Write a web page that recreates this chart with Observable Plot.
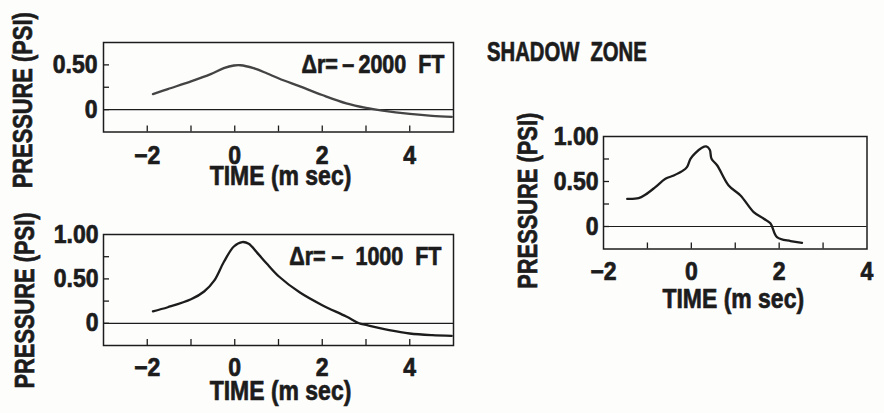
<!DOCTYPE html>
<html><head><meta charset="utf-8">
<script src="https://cdn.jsdelivr.net/npm/d3@7"></script>
<script src="https://cdn.jsdelivr.net/npm/@observablehq/plot@0.6"></script>
<style>
html,body{margin:0;padding:0;background:#fff;}
#wrap{position:relative;width:884px;height:413px;overflow:hidden;background:#fdfdfc;font-family:"Liberation Sans",Arial,sans-serif;font-weight:bold;color:#1c1c1c;}
.panel{position:absolute;}
.panel text{stroke:#1c1c1c;stroke-width:0.7px;}
#title{position:absolute;left:487px;top:39px;font-size:27px;line-height:1;white-space:nowrap;transform:scaleX(0.75);transform-origin:0 0;-webkit-text-stroke:0.7px #1c1c1c;}
</style></head><body>
<div id="wrap"><div id="title">SHADOW&nbsp; ZONE</div></div>
<script>
// Panel A: Δr = -2000 ft
const timeA = [-1.87, -1.53, -1.0, -0.55, -0.25, -0.02, 0.13, 0.43, 0.73, 1.01, 1.49, 2.0, 2.55, 3.0, 3.38, 4.0, 4.51, 4.96];
const pressureA = [0.174, 0.23, 0.315, 0.396, 0.463, 0.493, 0.496, 0.463, 0.407, 0.348, 0.259, 0.163, 0.07, 0.019, -0.011, -0.048, -0.07, -0.081];
// Panel B: Δr = -1000 ft
const timeB = [-1.87, -1.53, -1.0, -0.70, -0.47, -0.25, -0.02, 0.17, 0.32, 0.51, 0.73, 1.01, 1.49, 2.0, 2.55, 2.84, 3.0, 3.53, 4.0, 4.51, 4.96];
const pressureB = [0.135, 0.181, 0.27, 0.358, 0.48, 0.69, 0.865, 0.915, 0.896, 0.796, 0.673, 0.527, 0.346, 0.204, 0.077, 0.0, -0.019, -0.077, -0.115, -0.134, -0.142];
// Panel C: shadow zone
const timeC = [-1.46, -1.2, -1.05, -0.82, -0.59, -0.40, -0.21, -0.10, -0.02, 0.09, 0.24, 0.34, 0.42, 0.46, 0.59, 0.85, 1.12, 1.42, 1.65, 1.80, 1.95, 2.26, 2.52];
const pressureC = [0.307, 0.315, 0.352, 0.437, 0.53, 0.567, 0.615, 0.66, 0.752, 0.815, 0.874, 0.889, 0.852, 0.752, 0.678, 0.456, 0.344, 0.16, 0.086, 0.037, -0.118, -0.162, -0.181];

const xTicksAB = [-2, -1, 0, 1, 2, 3, 4];
const xLabelsAB = [-2, 0, 2, 4];
const xTicksC = [-1, 0, 1, 2, 3];
const xLabelsC = [-2, 0, 2, 4];
const yTicksA = [0, 0.25, 0.5];
const yLabelsA = [0, 0.5];
const yTicksBC = [0, 0.25, 0.5, 0.75];
const yLabelsBC = [0, 0.5, 1.0];
const yTitle = "PRESSURE (PSI)";
const xTitle = "TIME (m sec)";
const noteA = "Δr=\u2009\u2013\u20092000\u00a0\u00a0FT";
const noteB = "Δr=\u00a0\u2013\u00a0\u00a01000\u00a0\u00a0FT";

const FONT = '"Liberation Sans",Arial,sans-serif';
const INK = "#1c1c1c";
const fmtX = d => d < 0 ? "\u2212" + Math.abs(d) : String(d);
const fmtY = d => d === 0 ? "0" : d.toFixed(2);
const SQUEEZE = {"x-axis tick label": 0.92, "y-axis tick label": 0.92, "ytitle": 0.78, "xtitle": 0.82, "note": 0.86};

function squeezeText(t, f) {
  const len = t.getComputedTextLength();
  if (len > 0) {
    t.setAttribute("textLength", (len * f).toFixed(1));
    t.setAttribute("lengthAdjust", "spacingAndGlyphs");
  }
}
function condense(svg) {
  svg.querySelectorAll("g").forEach(g => {
    const key = g.getAttribute("aria-description") || g.getAttribute("aria-label");
    const f = SQUEEZE[key];
    if (!f) return;
    g.querySelectorAll("text").forEach(t => squeezeText(t, f));
  });
}

function panel(o) {
  const data = o.time.map((t, i) => ({t, p: o.pressure[i]}));
  const marks = [
    Plot.ruleY([0], {stroke: INK, strokeWidth: 1.2}),
    Plot.line(data, {x: "t", y: "p", curve: "catmull-rom", stroke: o.lineColor, strokeWidth: 2.3}),
    Plot.frame({stroke: INK, strokeWidth: 1.5}),
    Plot.axisX(o.xTicks, {anchor: "bottom", tickSize: 6, dy: -6, tickFormat: () => "", stroke: INK, strokeWidth: 1.3}),
    Plot.axisX(o.xLabels, {anchor: "bottom", tickSize: 0, tickPadding: o.xPad, fontSize: 25, fill: INK, tickFormat: fmtX}),
    Plot.axisY(o.yTicks, {anchor: "left", tickSize: 6, dx: 6, tickFormat: () => "", stroke: INK, strokeWidth: 1.3}),
    Plot.axisY(o.yLabels, {anchor: "left", tickSize: 0, tickPadding: o.yPad, fontSize: 25, fill: INK, tickFormat: fmtY}),
    Plot.text([yTitle], {text: d => d, ariaDescription: "ytitle", frameAnchor: "left", textAnchor: "middle", lineAnchor: "middle", rotate: -90, dx: o.ytDx, dy: o.ytDy, fontSize: 28, fill: INK}),
    Plot.text([xTitle], {text: d => d, ariaDescription: "xtitle", frameAnchor: "bottom", textAnchor: "middle", lineAnchor: "top", dx: o.xtDx, dy: o.xtDy, fontSize: 28, fill: INK})
  ];
  if (o.note) marks.push(Plot.text([o.note], {text: d => d, ariaDescription: "note", frameAnchor: "top-right", textAnchor: "end", lineAnchor: "top", dx: o.nDx, dy: o.nDy, fontSize: 25, fill: INK}));
  const svg = Plot.plot({
    width: o.width, height: o.height,
    marginLeft: o.ml, marginRight: o.mr, marginTop: o.mt, marginBottom: o.mb,
    x: {domain: o.xDomain, label: null},
    y: {domain: o.yDomain, label: null},
    style: {fontFamily: FONT, fontWeight: "bold", color: INK, background: "transparent", overflow: "visible"},
    marks
  });
  svg.classList.add("panel");
  svg.style.left = o.left + "px";
  svg.style.top = o.top + "px";
  document.getElementById("wrap").appendChild(svg);
  condense(svg);
}

panel({time: timeA, pressure: pressureA, lineColor: "#444", left: 0, top: 0, width: 470, height: 200,
  ml: 103, mr: 17, mt: 42, mb: 68.5, xDomain: [-3, 5], yDomain: [-0.25, 0.75],
  xTicks: xTicksAB, xLabels: xLabelsAB, yTicks: yTicksA, yLabels: yLabelsA,
  xPad: 14, yPad: 6, ytDx: -80, ytDy: 13, xtDx: 2, xtDy: 33.5, note: noteA, nDx: -9, nDy: 13});

panel({time: timeB, pressure: pressureB, lineColor: INK, left: 0, top: 200, width: 470, height: 213,
  ml: 103, mr: 17, mt: 34, mb: 68, xDomain: [-3, 5], yDomain: [-0.25, 1.0],
  xTicks: xTicksAB, xLabels: xLabelsAB, yTicks: yTicksBC, yLabels: yLabelsBC,
  xPad: 13, yPad: 5, ytDx: -78, ytDy: 10.5, xtDx: 2, xtDy: 35, note: noteB, nDx: -12, nDy: 12.7});

panel({time: timeC, pressure: pressureC, lineColor: INK, left: 480, top: 100, width: 404, height: 313,
  ml: 123, mr: 17.5, mt: 36, mb: 164.5, xDomain: [-2, 4], yDomain: [-0.25, 1.0],
  xTicks: xTicksC, xLabels: xLabelsC, yTicks: yTicksBC, yLabels: yLabelsBC,
  xPad: 13, yPad: 5, ytDx: -75, ytDy: 8, xtDx: -2, xtDy: 39.5, note: null});
</script>
</body></html>
